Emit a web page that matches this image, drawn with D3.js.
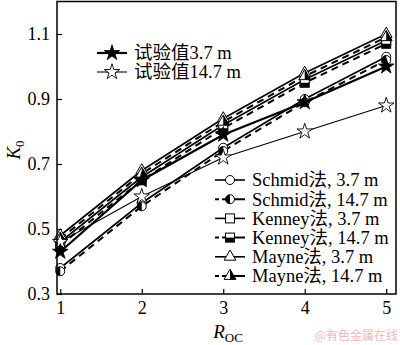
<!DOCTYPE html>
<html><head><meta charset="utf-8">
<script src="https://cdn.jsdelivr.net/npm/d3@7"></script>
<style>
body{margin:0;background:#fff;}
svg text{font-family:"Liberation Serif","Times New Roman","Noto Sans CJK SC",serif;}
</style></head>
<body><svg id="c" width="400" height="345"></svg>
<script>
// Overconsolidation ratio on the x axis
const ocr = [1, 2, 3, 4, 5];
const xTicks = [1, 2, 3, 4, 5];
const yTicks = [0.3, 0.5, 0.7, 0.9, 1.1];

// K0 values per series
const exp37     = [0.43, 0.65, 0.79, 0.89, 1.00];
const exp147    = [0.46, 0.60, 0.72, 0.80, 0.88];
const schmid37  = [0.38, 0.58, 0.75, 0.90, 1.03];
const schmid147 = [0.37, 0.57, 0.74, 0.89, 1.02];
const kenney37  = [0.46, 0.66, 0.82, 0.96, 1.08];
const kenney147 = [0.45, 0.65, 0.81, 0.95, 1.07];
const mayne37   = [0.48, 0.68, 0.84, 0.98, 1.10];
const mayne147  = [0.47, 0.67, 0.83, 0.97, 1.09];

const seriesNames = ["试验值3.7 m","试验值14.7 m","Schmid法, 3.7 m","Schmid法, 14.7 m",
  "Kenney法, 3.7 m","Kenney法, 14.7 m","Mayne法, 3.7 m","Mayne法, 14.7 m"];

const series = [
  {name: seriesNames[0], v: exp37,     mk: "starF", w: 2.2, dash: null},
  {name: seriesNames[1], v: exp147,    mk: "starO", w: 1.1, dash: null},
  {name: seriesNames[2], v: schmid37,  mk: "circO", w: 1.6, dash: null},
  {name: seriesNames[3], v: schmid147, mk: "circH", w: 2,   dash: "7,5"},
  {name: seriesNames[4], v: kenney37,  mk: "sqO",   w: 1.6, dash: null},
  {name: seriesNames[5], v: kenney147, mk: "sqH",   w: 2,   dash: "7,5"},
  {name: seriesNames[6], v: mayne37,   mk: "triO",  w: 1.6, dash: null},
  {name: seriesNames[7], v: mayne147,  mk: "triH",  w: 2,   dash: "7,5"}
];

const L = 57, R = 396, T = 1.5, B = 294;
const x = d3.scaleLinear().domain([0.96, 5.12]).range([L, R]);
const y = d3.scaleLinear().domain([0.3, 1.2]).range([B, T]);

const svg = d3.select("#c");

// lines
const line = d3.line().x((d, i) => x(ocr[i])).y(d => y(d));
const gLines = svg.append("g");
series.forEach(s => {
  gLines.append("path").datum(s.v).attr("d", line)
    .attr("fill", "none").attr("stroke", "#000").attr("stroke-width", s.w)
    .attr("stroke-dasharray", s.dash);
});

// marker drawing
const starPath = d3.symbol().type(d3.symbolStar).size(75)();
const triPath = d3.symbol().type(d3.symbolTriangle).size(60)();
let clipId = 0;
function marker(g, kind, cx, cy) {
  const m = g.append("g").attr("transform", `translate(${cx},${cy})`);
  if (kind === "starF") {
    m.append("path").attr("d", starPath).attr("fill", "#000").attr("stroke", "#000").attr("stroke-width", 0.8);
  } else if (kind === "starO") {
    m.append("path").attr("d", starPath).attr("fill", "#fff").attr("stroke", "#000").attr("stroke-width", 0.9);
  } else if (kind.startsWith("circ")) {
    m.append("circle").attr("r", 4.5).attr("fill", "#fff").attr("stroke", "#000").attr("stroke-width", 1);
    if (kind === "circH") {
      m.append("path").attr("d", d3.arc()({innerRadius: 0, outerRadius: 4.5, startAngle: Math.PI, endAngle: 2 * Math.PI})).attr("fill", "#000");
    }
  } else if (kind.startsWith("sq")) {
    m.append("rect").attr("x", -4.5).attr("y", -4.5).attr("width", 9).attr("height", 9)
      .attr("fill", "#fff").attr("stroke", "#000").attr("stroke-width", 1);
    if (kind === "sqH") m.append("rect").attr("x", -4.5).attr("y", 0).attr("width", 9).attr("height", 4.5).attr("fill", "#000");
  } else if (kind.startsWith("tri")) {
    m.append("path").attr("d", triPath).attr("fill", "#fff").attr("stroke", "#000").attr("stroke-width", 1);
    if (kind === "triH") {
      const id = "cl" + (clipId++);
      svg.append("clipPath").attr("id", id).append("rect").attr("x", 0).attr("y", -10).attr("width", 10).attr("height", 20);
      m.append("path").attr("d", triPath).attr("fill", "#000").attr("clip-path", `url(#${id})`);
    }
  }
}

// markers (draw methods first, experiments on top)
const order = [2, 3, 4, 5, 6, 7, 1, 0];
order.forEach(k => {
  const s = series[k];
  s.v.forEach((v, i) => marker(svg, s.mk, x(ocr[i]), y(v)));
});

// axes
const xAxis = d3.axisBottom(x).tickValues(xTicks).tickSizeInner(-5).tickSizeOuter(0).tickPadding(7).tickFormat(d3.format("d"));
const yAxis = d3.axisLeft(y).tickValues(yTicks).tickSizeInner(-5).tickSizeOuter(0).tickPadding(7).tickFormat(d3.format(".1f"));
const gx = svg.append("g").attr("transform", `translate(0,${B})`).call(xAxis);
const gy = svg.append("g").attr("transform", `translate(${L},0)`).call(yAxis);
[gx, gy].forEach(g => {
  g.select(".domain").remove();
  g.selectAll("line").attr("stroke", "#000").attr("stroke-width", 1.2);
  g.selectAll("text").attr("font-size", 18).attr("fill", "#000")
    .style("font-family", "'Liberation Serif','Times New Roman',serif");
});

// frame
svg.append("rect").attr("x", L).attr("y", T).attr("width", R - L).attr("height", B - T)
  .attr("fill", "none").attr("stroke", "#000").attr("stroke-width", 1.5);

// axis titles
const yl = svg.append("text").attr("transform", "translate(20,150) rotate(-90)")
  .attr("text-anchor", "middle").attr("font-size", 19);
yl.append("tspan").attr("font-style", "italic").text("K");
yl.append("tspan").attr("font-size", 13).attr("dy", 4).text("0");

const xl = svg.append("text").attr("x", 228).attr("y", 338).attr("text-anchor", "middle").attr("font-size", 19);
xl.append("tspan").attr("font-style", "italic").text("R");
xl.append("tspan").attr("font-size", 13).attr("dy", 4).text("OC");

// legend rows
function legendRow(s, lx, ly) {
  svg.append("line").attr("x1", lx).attr("x2", lx + 30).attr("y1", ly).attr("y2", ly)
    .attr("stroke", "#000").attr("stroke-width", s.w).attr("stroke-dasharray", s.dash ? "4,3,30" : null);
  marker(svg, s.mk, lx + 15, ly);
  svg.append("text").attr("x", lx + 37).attr("y", ly).attr("dy", "0.35em")
    .attr("font-size", 18.5).text(s.name);
}
[0, 1].forEach((k, i) => legendRow(series[k], 97, 53 + i * 19));
[2, 3, 4, 5, 6, 7].forEach((k, i) => legendRow(series[k], 215, 180 + i * 19.2));

// site watermark
svg.append("text").attr("x", 398).attr("y", 340).attr("text-anchor", "end")
  .attr("font-size", 12).attr("fill", "#f2b6b6")
  .style("font-family", "'Noto Sans CJK SC',sans-serif").text("@有色金属在线");
</script></body></html>
